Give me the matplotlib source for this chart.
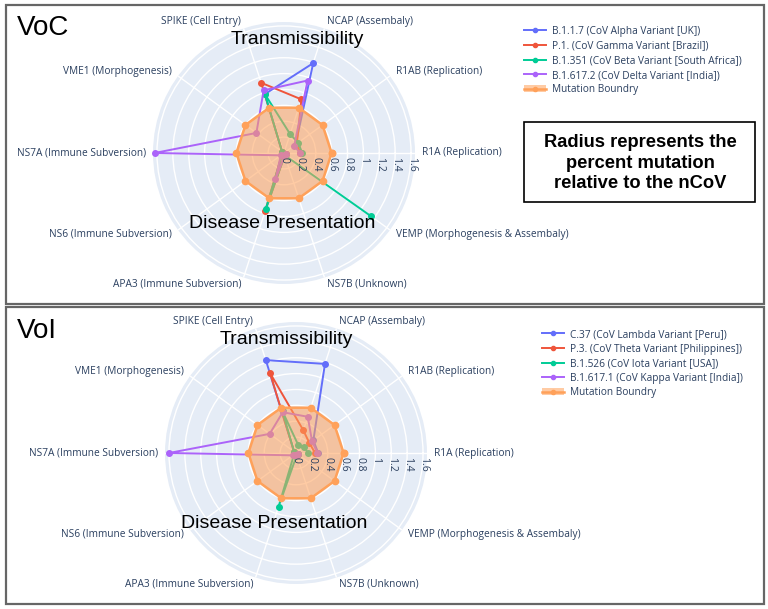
import numpy as np
import matplotlib
matplotlib.use("Agg")
import matplotlib.pyplot as plt
from matplotlib.patches import Rectangle, Patch
from matplotlib.lines import Line2D
from matplotlib.transforms import offset_copy

# categories in angular order (counter-clockwise from 0 deg)
categories = ['R1A (Replication)', 'R1AB (Replication)', 'NCAP (Assembaly)',
              'SPIKE (Cell Entry)', 'VME1 (Morphogenesis)', 'NS7A (Immune Subversion)',
              'NS6 (Immune Subversion)', 'APA3 (Immune Subversion)', 'NS7B (Unknown)',
              'VEMP (Morphogenesis & Assembaly)']

# VoC
voc_names = ['B.1.1.7 (CoV Alpha Variant [UK])', 'P.1. (CoV Gamma Variant [Brazil])',
             'B.1.351 (CoV Beta Variant [South Africa])', 'B.1.617.2 (CoV Delta Variant [India])']
voc_alpha = [0.22, 0.18, 1.19, 0.78, 0.03, 0.03, 0.03, 0.03, 0.03, 0.03]
voc_gamma = [0.20, 0.20, 0.71, 0.93, 0.03, 0.03, 0.03, 0.77, 0.03, 0.03]
voc_beta = [0.23, 0.22, 0.25, 0.78, 0.03, 0.03, 0.03, 0.74, 0.03, 1.36]
voc_delta = [0.20, 0.16, 0.96, 0.83, 0.43, 1.63, 0.05, 0.35, 0.03, 0.03]

# VoI
voi_names = ['C.37 (CoV Lambda Variant [Peru])', 'P.3. (CoV Theta Variant [Philippines])',
             'B.1.526 (CoV Iota Variant [USA])', 'B.1.617.1 (CoV Kappa Variant [India])']
voi_lambda = [0.28, 0.27, 1.18, 1.23, 0.03, 0.03, 0.03, 0.03, 0.03, 0.03]
voi_theta = [0.24, 0.21, 0.30, 1.06, 0.03, 0.03, 0.03, 0.03, 0.03, 0.03]
voi_iota = [0.15, 0.13, 0.10, 0.55, 0.03, 0.03, 0.03, 0.71, 0.03, 0.03]
voi_kappa = [0.27, 0.25, 0.48, 0.54, 0.41, 1.60, 0.05, 0.03, 0.03, 0.03]

boundary = [0.6] * 10
boundary_name = 'Mutation Boundry'

r_ticks = [0, 0.2, 0.4, 0.6, 0.8, 1, 1.2, 1.4, 1.6]
r_max = 1.65

colors = ['#636efa', '#EF553B', '#00cc96', '#ab63fa']
orange = '#FFA15A'
txt_col = '#2a3f5f'
W, H = 768, 609

fig = plt.figure(figsize=(W / 100, H / 100), dpi=100)


def fx(x):
    return x / W


def fy(y):
    return 1 - y / H


def radar(cx, cy, series, names, leg_x, leg_y):
    R = 131
    ax = fig.add_axes([fx(cx - R), fy(cy + R), 2 * R / W, 2 * R / H], projection='polar')
    ax.set_facecolor('#E5ECF6')
    ax.spines['polar'].set_visible(False)
    theta = np.deg2rad(np.arange(len(categories)) * 360 / len(categories))
    ax.set_xticks(theta)
    ax.set_xticklabels([])
    ax.set_yticks(r_ticks[1:])
    ax.set_yticklabels([])
    ax.set_ylim(0, r_max)
    ax.tick_params(length=0)
    ax.grid(color='white', lw=1)

    handles = []
    for vals, c in zip(series, colors):
        ax.plot(theta, vals, '-o', color=c, lw=1.4, ms=4, clip_on=False, zorder=3)
        handles.append(Line2D([], [], color=c, lw=1.4, marker='o', ms=3))

    b = np.array(boundary)
    ax.fill(theta, b, color=orange, alpha=0.55, lw=0, zorder=4)
    ax.plot(np.append(theta, theta[0]), np.append(b, b[0]), '-o', color=orange,
            lw=1.8, ms=4.5, zorder=5)
    handles.append((Patch(facecolor=orange, alpha=0.55, lw=0),
                    Line2D([], [], color=orange, lw=1.8, marker='o', ms=3)))

    # category labels
    for t, lab in zip(theta, categories):
        c = np.cos(t)
        ha = 'left' if c > 0.1 else ('right' if c < -0.1 else 'center')
        ax.text(t, r_max * 1.055, lab, ha=ha, va='center', fontsize=7.3,
                family='Open Sans', color=txt_col, clip_on=False)

    # radial tick labels
    tr = offset_copy(ax.transData, fig=fig, y=-4, units='dots')
    for r in r_ticks:
        ax.text(0, r, f'{r:g}', rotation=-90, ha='center', va='top', fontsize=7.5,
                family='Open Sans', color=txt_col, transform=tr, zorder=6)

    fig.legend(handles, names + [boundary_name], loc='upper left',
               bbox_to_anchor=(fx(leg_x), fy(leg_y)), frameon=False,
               prop={'family': 'Open Sans', 'size': 7.3},
               labelcolor=txt_col, handlelength=2.2, handletextpad=0.6,
               labelspacing=0.35, borderpad=0, borderaxespad=0)
    return ax


# panel frames
for y0, y1 in [(5, 304), (307, 604)]:
    fig.add_artist(Rectangle((fx(6), fy(y1)), (764 - 6) / W, (y1 - y0) / H,
                             transform=fig.transFigure, fill=False,
                             ec='#666666', lw=1.6))

radar(284, 153, [voc_alpha, voc_gamma, voc_beta, voc_delta], voc_names, 524, 26)
radar(296, 453, [voi_lambda, voi_theta, voi_iota, voi_kappa], voi_names, 542, 329)

big = dict(family='Liberation Sans', color='black', zorder=10)
fig.text(fx(17), fy(28), 'VoC', fontsize=20, ha='left', va='center', **big)
fig.text(fx(17), fy(331), 'VoI', fontsize=20, ha='left', va='center', **big)
fig.text(fx(297), fy(40), 'Transmissibility', fontsize=14, ha='center', va='center', **big)
fig.text(fx(282), fy(224), 'Disease Presentation', fontsize=14, ha='center', va='center', **big)
fig.text(fx(286), fy(340), 'Transmissibility', fontsize=14, ha='center', va='center', **big)
fig.text(fx(274), fy(524), 'Disease Presentation', fontsize=14, ha='center', va='center', **big)

# note box
fig.add_artist(Rectangle((fx(524), fy(202)), (755 - 524) / W, (202 - 122) / H,
                         transform=fig.transFigure, fc='white', ec='black', lw=1.2))
fig.text(fx(640), fy(163), 'Radius represents the\npercent mutation\nrelative to the nCoV',
         ha='center', va='center', fontsize=13.2, fontweight='bold',
         family='Liberation Sans', linespacing=1.25)

fig.savefig('out.png', dpi=100)
